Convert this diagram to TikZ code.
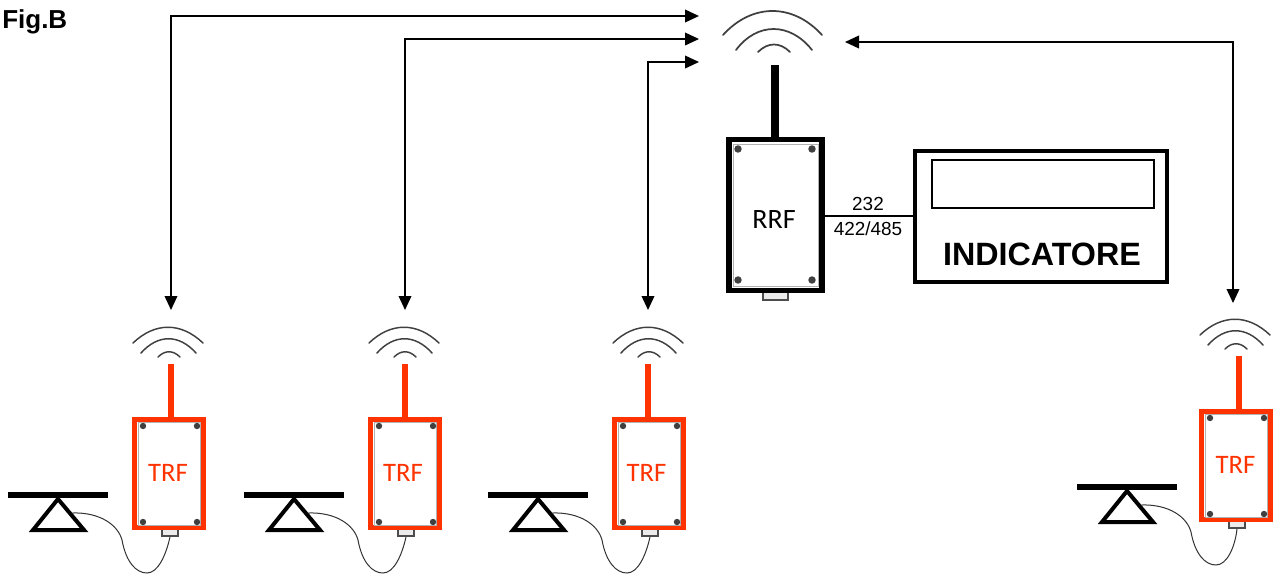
\documentclass[tikz,border=0pt]{standalone}
\usepackage{fontspec}
\setmainfont{Liberation Sans}
\newfontfamily\labelfont{Carlito}
\usetikzlibrary{arrows.meta}
\definecolor{trfred}{HTML}{FF3300}
\tikzset{
  x=0.75pt,y=-0.75pt,
  wave/.style={draw=black!75,line width=1.1pt,line cap=round},
  devbox/.style={draw=#1,line width=4.2pt,fill=white,inner sep=0pt},
  tab/.style={draw=black!70,line width=0.9pt,fill=black!8},
  screw/.style={fill=black!75,draw=none},
  link/.style={draw=black,line width=1.2pt,{Triangle[length=10.5pt,width=9.5pt]}-{Triangle[length=10.5pt,width=9.5pt]}},
  wire/.style={draw=black!80,line width=0.75pt},
  beam/.style={draw=black,line width=4.2pt},
  pivot/.style={draw=black,line width=3pt,line join=miter,fill=white},
  small/.style={inner sep=0pt,font=\fontsize{14.2}{16}\selectfont},
  devlabel/.style={inner sep=0pt,font=\labelfont\fontsize{#1}{22}\selectfont},
  innerline/.style={draw=black!30,line width=0.5pt},
}
% #1 name, #2 dx box, #3 dx scale, #4 dy, #5 extra dx of antenna and arrow end
\newcommand{\trfunit}[5]{%
  \begin{scope}[shift={(#2,#4)}]
    \draw[wave] (133,343) .. controls (155,322) and (181,322) .. (203,343);
    \draw[wave] (141,353) .. controls (158,334) and (179,334) .. (196,353);
    \draw[wave] (158,357) .. controls (165,350) and (173,350) .. (180,357);
    \coordinate (#1top) at (171+#5,310);
    \draw[trfred,line width=5.2pt] (171+#5,364) -- (171+#5,418);
    \draw[tab] (162,529) rectangle (178,536);
    \node[devbox=trfred,minimum width=52pt,minimum height=81pt] (#1) at (169,473.5) {};
    \node[devlabel=20,text=trfred] (#1label) at (168+#5/2,473) {TRF};
    \draw[innerline] (138,422) rectangle (200,525);
    \foreach \sx/\sy in {143/426,197/426,143/522,197/522}
      \fill[screw] (\sx,\sy) circle (2.4pt);
    \coordinate (#1tail) at (170,537);
  \end{scope}
  \begin{scope}[shift={(#3,#4)}]
    \draw[pivot] (58,499) -- (84,530) -- (33,530) -- cycle;
    \coordinate (#1load) at (72,513);
    \coordinate (#1c1) at (100,512);
    \coordinate (#1c2) at (118,525);
    \coordinate (#1bend) at (122,540);
    \coordinate (#1c3) at (126,562);
    \coordinate (#1c4) at (136,573);
    \coordinate (#1low) at (147,573);
    \coordinate (#1c5) at (158,573);
    \coordinate (#1c6) at (166,555);
    \draw[beam] (8,495) -- (108,495);
  \end{scope}
  \draw[wire] (#1load) .. controls (#1c1) and (#1c2) .. (#1bend)
     .. controls (#1c3) and (#1c4) .. (#1low)
     .. controls (#1c5) and (#1c6) .. (#1tail);
}
\begin{document}
\begin{tikzpicture}
\useasboundingbox (0,0) rectangle (1274,575);
\node[anchor=west,inner sep=0pt,font=\bfseries\fontsize{19.5}{22}\selectfont] (figlabel) at (2,22) {Fig.B};

% receiver
\draw[wave,line width=1.3pt] (723,35) .. controls (752,3) and (793,3) .. (822,35);
\draw[wave,line width=1.3pt] (736,50) .. controls (757,22) and (790,22) .. (812,50);
\draw[wave,line width=1.3pt] (758,52) .. controls (768,42) and (780,42) .. (790,52);
\draw[black,line width=6pt] (775,65) -- (775,139);
\draw[tab] (763,291) rectangle (788,300);
\node[devbox=black,minimum width=70pt,minimum height=113pt] (rrf) at (775.5,215) {};
\node[devlabel=21] (rrflabel) at (774,220) {RRF};
\draw[innerline] (733,144) rectangle (818,286);
\foreach \sx/\sy in {738/149,812/149,738/280,812/280}
  \fill[screw] (\sx,\sy) circle (2.8pt);

% indicator
\node[draw=black,line width=2.8pt,minimum width=189.5pt,minimum height=98.5pt,inner sep=0pt] (ind) at (1041,216.5) {};
\node[draw=black,line width=1.4pt,minimum width=166pt,minimum height=35.5pt,inner sep=0pt] (disp) at (1043,184) {};
\node[inner sep=0pt,font=\bfseries\fontsize{24.2}{26}\selectfont] (indtext) at (1042,254) {INDICATORE};

% serial link
\draw[black,line width=1pt] (rrf.east |- 825,216) -- (ind.west |- 913,216);
\node[small] (ser1) at (868,204) {232};
\node[small] (ser2) at (868,229) {422/485};

% transmitters
\trfunit{a}{0}{0}{0}{0}
\trfunit{b}{236}{236}{0}{-2}
\trfunit{c}{480}{480}{0}{-3}
\trfunit{d}{1067}{1069}{-8}{1}

% radio links
\coordinate (hubA) at (699,16);
\coordinate (hubB) at (699,39);
\coordinate (hubC) at (699,62);
\coordinate (hubD) at (845,42);
\coordinate (dend) at (1233,303);
\draw[link] (atop) |- (hubA);
\draw[link] (btop) |- (hubB);
\draw[link] (ctop) |- (hubC);
\draw[link] (dend) |- (hubD);
\end{tikzpicture}
\end{document}
